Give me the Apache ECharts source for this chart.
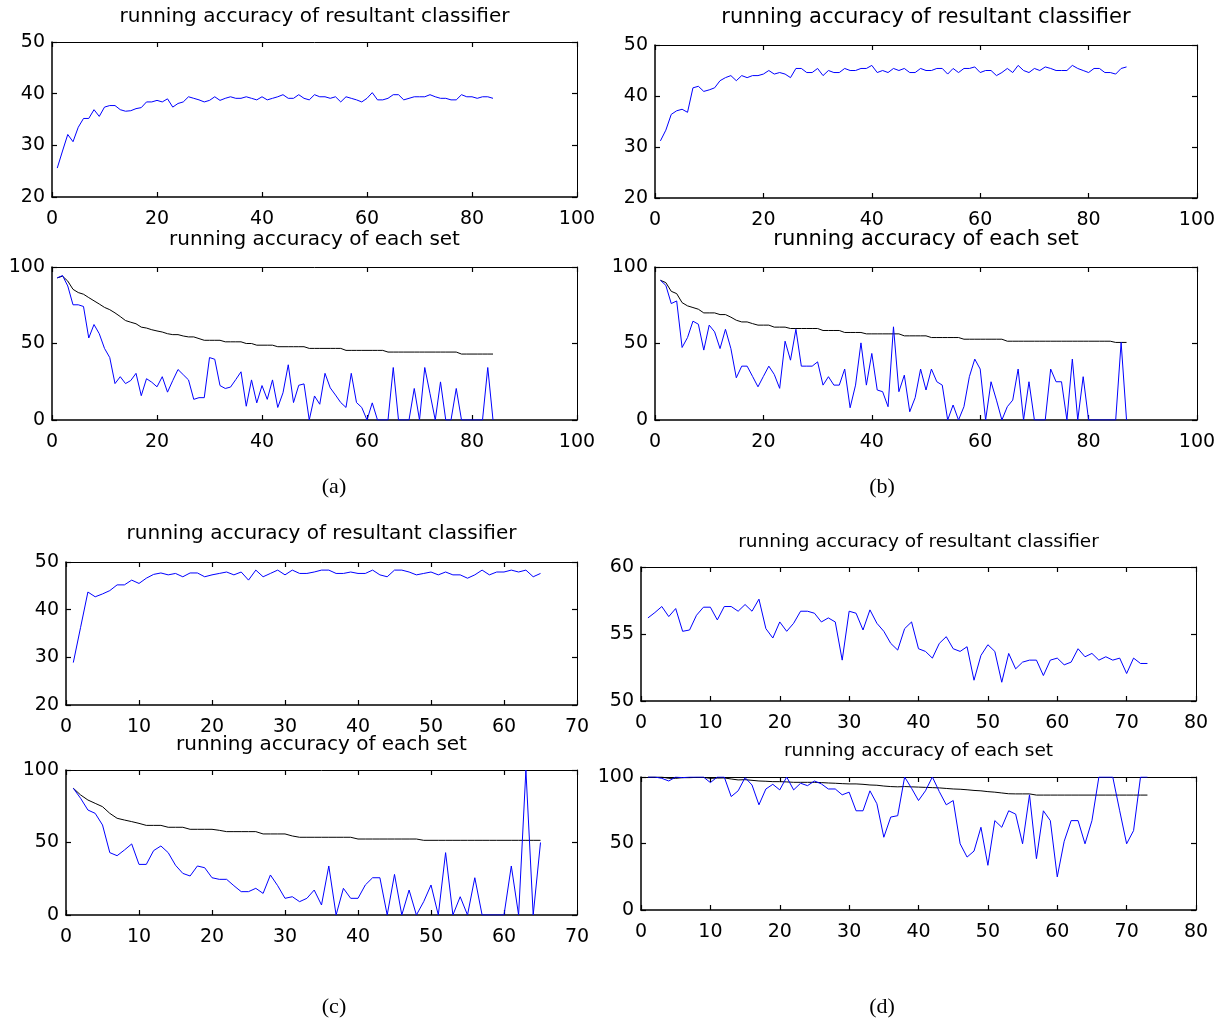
<!DOCTYPE html>
<html>
<head>
<meta charset="utf-8">
<script src="https://cdn.jsdelivr.net/npm/echarts@6/dist/echarts.min.js"></script>
<style>html,body{margin:0;padding:0;background:#fff}#c{width:1228px;height:1023px}</style>
</head>
<body>
<div id="c"></div>
<script>
// ---------- data (x = 1..n) ----------
const aTopRes = [25.6,28.9,32.1,30.7,33.5,35.2,35.2,36.9,35.6,37.4,
 37.7,37.7,36.9,36.6,36.7,37.1,37.3,38.4,38.4,38.7,
 38.4,39.0,37.4,38.1,38.4,39.4,39.1,38.8,38.4,38.7,
 39.4,38.7,39.1,39.4,39.1,39.1,39.4,39.1,38.8,39.4,
 38.8,39.1,39.4,39.8,39.1,39.1,39.8,39.1,38.8,39.8,
 39.4,39.4,39.1,39.4,38.4,39.4,39.1,38.8,38.4,39.1,
 40.2,38.8,38.8,39.1,39.8,39.8,38.8,39.1,39.4,39.4,
 39.4,39.8,39.4,39.1,39.1,38.8,38.8,39.8,39.4,39.4,
 39.1,39.4,39.4,39.1];
const aBotAvg = [92.9,94.0,90.8,85.4,83.3,82.2,80.0,77.9,75.8,73.6,
 72.1,70.0,67.6,65.0,63.9,62.9,60.7,60.1,59.0,58.2,
 57.5,56.4,55.8,55.8,54.9,54.3,54.3,53.2,52.1,52.1,
 52.1,52.1,51.1,51.1,51.1,51.1,50.0,50.0,48.9,48.9,
 48.9,48.9,47.9,47.9,47.9,47.9,47.9,47.9,46.8,46.8,
 46.8,46.8,46.8,46.8,46.8,45.5,45.5,45.5,45.5,45.5,
 45.5,45.5,45.5,44.4,44.4,44.4,44.4,44.4,44.4,44.4,
 44.4,44.4,44.4,44.4,44.4,44.4,44.4,43.1,43.1,43.1,
 43.1,43.1,43.1,43.1];
const aBotSet = [92.9,94.4,87.6,75.3,75.3,74.2,53.6,62.4,56.4,46.8,
 40.8,23.8,28.3,23.8,25.8,30.5,15.9,27.0,24.7,21.7,
 28.3,18.2,25.8,33.0,29.6,26.2,13.5,14.6,14.6,40.8,
 39.7,22.5,20.6,21.5,26.4,31.5,9.0,26.2,11.2,22.5,
 13.5,26.2,8.2,17.8,36.1,11.4,22.7,23.6,0,15.7,
 10.3,30.5,21.0,16.3,11.4,8.2,30.5,11.4,8.2,0,
 11.2,0,0,0,34.3,0,0,0,20.6,0,
 34.3,17.2,0,24.9,0,0,20.6,0,0,0,
 0,0,34.3,0];
const bTopRes = [31.2,33.3,36.4,37.1,37.4,36.8,41.6,41.9,40.9,41.2,
 41.6,43.0,43.6,44.0,43.0,44.0,43.6,44.0,44.0,44.3,
 45.0,44.3,44.6,44.3,43.6,45.4,45.4,44.6,44.6,45.4,
 44.0,45.0,44.6,44.6,45.4,45.0,45.0,45.4,45.4,46.0,
 44.6,45.0,44.6,45.4,45.0,45.4,44.6,44.6,45.4,45.0,
 45.0,45.4,45.4,44.3,45.4,44.6,45.4,45.4,45.7,44.6,
 45.0,45.0,44.0,44.6,45.4,44.6,46.0,45.0,44.6,45.4,
 45.0,45.7,45.4,45.0,45.0,45.0,46.0,45.4,45.0,44.6,
 45.4,45.4,44.6,44.6,44.3,45.4,45.7];
const bBotAvg = [91.3,89.8,84.1,82.6,76.7,74.6,73.5,72.4,70.0,70.0,
 70.0,68.9,68.9,67.2,65.2,64.1,64.1,63.0,62.0,62.0,
 62.0,60.7,60.7,60.7,59.8,59.8,59.8,59.8,59.8,59.8,
 58.5,58.5,58.5,58.5,57.2,57.2,57.2,57.2,56.3,56.3,
 56.3,56.3,56.3,56.3,56.3,55.0,55.0,55.0,55.0,55.0,
 53.9,53.9,53.9,53.9,53.9,53.9,52.8,52.8,52.8,52.8,
 52.8,52.8,52.8,52.8,51.5,51.5,51.5,51.5,51.5,51.5,
 51.5,51.5,51.5,51.5,51.5,51.5,51.5,51.5,51.5,51.5,
 51.5,51.5,51.5,51.5,50.7,50.7,50.7];
const bBotSet = [91.3,88.0,76.1,77.8,47.4,53.9,64.6,62.6,45.7,62.0,
 57.6,46.7,59.3,46.7,27.6,35.2,35.2,28.5,21.7,28.5,
 35.2,29.8,20.7,51.5,39.1,59.3,35.2,35.2,35.2,38.0,
 22.8,28.3,22.8,22.8,33.3,8.0,22.8,50.4,22.8,43.5,
 19.6,18.5,8.7,60.9,18.5,29.3,5.4,14.6,33.3,19.6,
 33.3,25.0,22.8,0,9.8,0,8.7,28.3,39.8,33.3,
 0,25.0,13.0,0,8.7,13.0,33.3,0,25.0,0,
 0,0,33.3,25.0,25.0,0,39.8,0,28.3,0,
 0,0,0,0,0,50.7,0];
const cTopRes = [28.9,36.3,43.7,42.7,43.3,44.0,45.2,45.2,46.2,45.5,
 46.6,47.4,47.7,47.3,47.6,46.9,47.7,47.7,46.9,47.3,
 47.6,47.9,47.3,47.9,46.2,48.3,46.9,47.6,48.3,47.3,
 48.3,47.6,47.6,47.9,48.3,48.3,47.6,47.6,47.9,47.6,
 47.6,48.3,47.3,46.9,48.3,48.3,47.9,47.3,47.6,47.9,
 47.3,47.9,47.3,47.3,46.6,47.3,48.3,47.3,47.9,47.9,
 48.3,47.9,48.3,46.9,47.6];
const cBotAvg = [87.4,82.8,79.3,77.0,74.7,70.1,66.7,65.5,64.4,63.2,
 61.8,61.8,61.8,60.5,60.5,60.5,59.1,59.1,59.1,59.1,
 58.4,57.5,57.5,57.5,57.5,57.5,55.9,55.9,55.9,55.9,
 54.5,53.6,53.6,53.6,53.6,53.6,53.6,53.6,53.6,52.4,
 52.4,52.4,52.4,52.4,52.4,52.4,52.4,52.4,51.5,51.5,
 51.5,51.5,51.5,51.5,51.5,51.5,51.5,51.5,51.5,51.5,
 51.5,51.5,51.5,51.5,51.5];
const cBotSet = [87.4,80.5,72.4,70.1,62.1,43.0,40.9,44.8,49.0,34.9,
 34.9,44.4,47.6,43.0,34.3,28.7,26.9,33.8,32.6,25.7,
 24.6,24.6,20.2,16.1,16.1,18.4,14.9,27.6,20.2,11.5,
 12.6,9.2,11.5,17.2,6.9,33.8,0,18.4,11.5,11.5,
 20.7,25.7,25.7,0,28.0,0,17.2,0,9.2,20.7,
 0,43.0,0,12.6,0,25.7,0,0,0,0,
 33.8,0,100,0,50.0];
const dTopRes = [56.2,56.6,57.05,56.3,56.9,55.2,55.3,56.4,57.0,57.0,
 56.05,57.05,57.05,56.7,57.2,56.7,57.6,55.4,54.7,55.9,
 55.2,55.8,56.7,56.7,56.55,55.9,56.2,55.9,53.05,56.7,
 56.55,55.3,56.8,55.8,55.2,54.3,53.8,55.4,55.9,53.9,
 53.7,53.2,54.3,54.8,53.9,53.7,54.05,51.55,53.4,54.2,
 53.7,51.4,53.55,52.4,52.9,53.05,53.05,51.9,53.05,53.2,
 52.7,52.9,53.9,53.3,53.55,53.05,53.3,53.05,53.2,52.05,
 53.2,52.8,52.8];
const dBotAvg = [100,100,100,99,99,99.5,99.5,99.7,99.7,99,
 99.2,99.3,98.5,97.8,98,97.5,97,96.8,96.5,96.5,
 96.3,96,96,96,96,95.8,95.5,95.3,95,94.8,
 94.8,94.5,94,93.8,93.2,92.8,92.6,92.8,92.6,92.4,
 92.2,92,91.8,91.4,91.0,90.8,90.4,89.9,89.6,89.0,
 88.6,88.0,87.4,87.3,87.3,87.3,86.4,86.4,86.4,86.4,
 86.4,86.4,86.4,86.4,86.4,86.4,86.4,86.4,86.4,86.4,
 86.4,86.4,86.4];
const dBotSet = [100,100,99,97,100,99.5,100,100,100,95.8,
 100,100,85.3,89.6,99.5,94,79.1,91,94.5,90.3,
 100,90.3,95.3,93.5,97,94.8,91,91,86.6,88.6,
 74.6,74.6,89.6,79.9,54.7,69.9,70.9,100,91.5,82.3,
 89.6,100,89,79.1,82.3,49.8,39.8,44.3,62.2,33.6,
 67.2,62.2,74.6,72.1,49.8,86.6,38.6,74.6,67.2,24.9,
 51.7,67.2,67.2,49.8,67.2,100,100,100,74.6,49.8,
 59.7,100,100];

const titleRes = 'running accuracy of resultant classifier';
const titleSet = 'running accuracy of each set';
const captions = ['(a)', '(b)', '(c)', '(d)'];

// ---------- layout ----------
const panels = [
  {rect:[52,42,525,155],  x:[0,100,20], y:[20,50,10], title:titleRes, tf:20, ty:17,  lines:[[aTopRes,'#0000ff']]},
  {rect:[52,267,525,153], x:[0,100,20], y:[0,100,50], title:titleSet, tf:20, ty:240, lines:[[aBotAvg,'#000000'],[aBotSet,'#0000ff']]},
  {rect:[655,45,542,153], x:[0,100,20], y:[20,50,10], title:titleRes, tf:21, ty:18,  lines:[[bTopRes,'#0000ff']]},
  {rect:[655,267,542,153],x:[0,100,20], y:[0,100,50], title:titleSet, tf:21, ty:240, lines:[[bBotAvg,'#000000'],[bBotSet,'#0000ff']]},
  {rect:[66,562,511,143], x:[0,70,10],  y:[20,50,10], title:titleRes, tf:20, ty:534, lines:[[cTopRes,'#0000ff']]},
  {rect:[66,770,511,145], x:[0,70,10],  y:[0,100,50], title:titleSet, tf:20, ty:745, lines:[[cBotAvg,'#000000'],[cBotSet,'#0000ff']]},
  {rect:[641,567,555,134],x:[0,80,10],  y:[50,60,5],  title:titleRes, tf:18.5, ty:542, lines:[[dTopRes,'#0000ff']]},
  {rect:[641,777,555,133],x:[0,80,10],  y:[0,100,50], title:titleSet, tf:18.5, ty:751, lines:[[dBotAvg,'#000000'],[dBotSet,'#0000ff']]}
];
const capPos = [[334,487],[882,487],[334,1007],[882,1007]];

const grid = [], xAxis = [], yAxis = [], series = [], graphic = [];
const lblFont = {fontFamily:'DejaVu Sans', fontSize:19, color:'#000'};
panels.forEach((p, i) => {
  const [l,t,w,h] = p.rect;
  grid.push({left:l, top:t, width:w, height:h, containLabel:false});
  const xb = {type:'value', gridIndex:i, min:p.x[0], max:p.x[1], interval:p.x[2]};
  const yb = {type:'value', gridIndex:i, min:p.y[0], max:p.y[1], interval:p.y[2]};
  const tick = {show:true, inside:true, length:5, lineStyle:{color:'#000', width:1.2}};
  xAxis.push(Object.assign({}, xb, {position:'bottom',
    axisLine:{show:true, onZero:false, lineStyle:{color:'#000', width:1.5}},
    axisTick:tick, splitLine:{show:false},
    axisLabel:Object.assign({margin:13}, lblFont)}));
  xAxis.push(Object.assign({}, xb, {position:'top',
    axisLine:{show:true, onZero:false, lineStyle:{color:'#000', width:1}},
    axisTick:tick, splitLine:{show:false}, axisLabel:{show:false}}));
  yAxis.push(Object.assign({}, yb, {position:'left',
    axisLine:{show:true, onZero:false, lineStyle:{color:'#000', width:1.5}},
    axisTick:tick, splitLine:{show:false},
    axisLabel:Object.assign({margin:7}, lblFont)}));
  yAxis.push(Object.assign({}, yb, {position:'right',
    axisLine:{show:true, onZero:false, lineStyle:{color:'#000', width:1}},
    axisTick:tick, splitLine:{show:false}, axisLabel:{show:false}}));
  p.lines.forEach(([arr, col]) => {
    series.push({type:'line', xAxisIndex:2*i, yAxisIndex:2*i,
      data:arr.map((v,k)=>[k+1, v]), showSymbol:false, symbol:'none',
      lineStyle:{color:col, width:1}, z:col==='#000000'?2:3, animation:false});
  });
  graphic.push({type:'text', x:l + w/2, y:p.ty, silent:true,
    style:{text:p.title, fontFamily:'DejaVu Sans', fontSize:p.tf, fill:'#000',
      textAlign:'center', textVerticalAlign:'middle'}});
});
captions.forEach((c, i) => {
  graphic.push({type:'text', x:capPos[i][0], y:capPos[i][1], silent:true,
    style:{text:c, fontFamily:'Liberation Serif', fontSize:22, fill:'#000',
      textAlign:'center', textVerticalAlign:'middle'}});
});

const chart = echarts.init(document.getElementById('c'));
chart.setOption({animation:false, backgroundColor:'#fff', grid, xAxis, yAxis, series, graphic});
</script>
</body>
</html>
